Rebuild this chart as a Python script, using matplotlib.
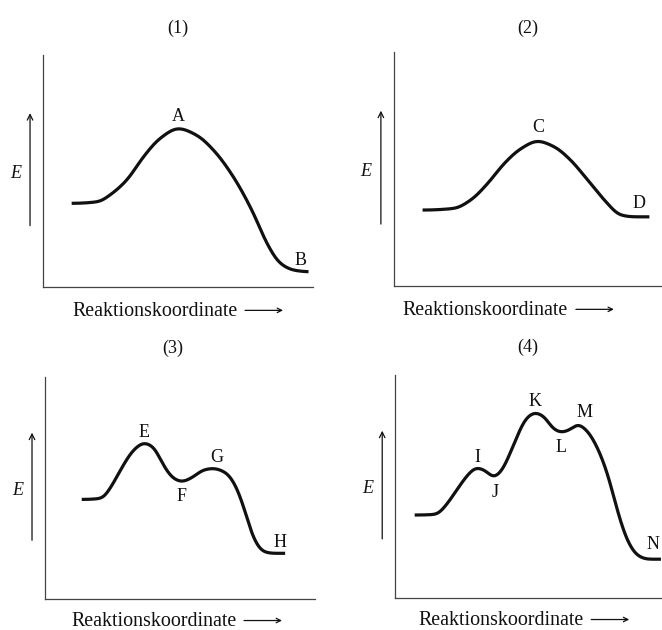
import numpy as np
import matplotlib.pyplot as plt

plt.rcParams['font.family'] = ['Liberation Serif', 'DejaVu Sans']

# energy profiles, reaction coordinate and energy both on a 0-100 scale
x1 = [10.6, 20.5, 24.8, 31.0, 37.2, 43.3, 50.1, 56.9, 63.1, 70.5, 77.9, 82.9, 87.8, 92.7, 98.3]
e1 = [36.1, 36.8, 39.7, 46.1, 56.2, 64.1, 68.4, 65.5, 59.1, 47.5, 31.8, 18.8, 10.2, 7.3, 6.6]

x2 = [10.7, 22.5, 28.7, 35.0, 41.2, 47.4, 53.6, 59.8, 66.0, 72.3, 78.5, 84.7, 89.7, 95.3]
e2 = [32.5, 33.2, 36.8, 43.9, 52.5, 58.8, 62.0, 59.6, 53.8, 45.3, 36.8, 30.3, 29.6, 29.6]

x3 = [13.6, 21.1, 24.1, 29.0, 32.7, 36.7, 40.1, 43.8, 47.5, 50.6, 54.9, 58.6, 62.3,
      67.3, 71.0, 74.1, 77.2, 80.9, 84.6, 88.9]
e3 = [44.9, 45.4, 49.9, 60.4, 67.1, 70.4, 68.6, 60.4, 54.4, 52.9, 55.1, 58.2, 58.9,
      56.7, 50.0, 39.4, 27.4, 21.3, 20.6, 20.6]

x4 = [7.3, 15.4, 19.1, 23.5, 27.2, 30.3, 33.5, 36.8, 39.7, 42.8, 45.9, 49.1, 52.4,
      55.9, 59.0, 62.2, 65.3, 68.4, 72.2, 75.9, 79.7, 83.4, 87.2, 90.9, 94.7, 99.6]
e4 = [37.2, 37.5, 41.7, 49.2, 55.2, 58.4, 57.4, 54.1, 56.7, 64.1, 73.1, 80.6, 83.1,
      81.3, 76.1, 74.3, 75.3, 77.9, 74.6, 67.1, 55.2, 38.7, 25.3, 19.0, 17.4, 17.4]

titles = ['(1)', '(2)', '(3)', '(4)']
point_labels = [['A', 'B'], ['C', 'D'], ['E', 'F', 'G', 'H'], ['I', 'J', 'K', 'L', 'M', 'N']]
xlabel = 'Reaktionskoordinate'
ylabel = 'E'


def smooth(x, y, n=800, sigma=1.3):
    # pchip line through the read points, lightly softened like a hand-drawn curve
    x = np.asarray(x, float)
    y = np.asarray(y, float)
    h = np.diff(x)
    d = np.diff(y) / h
    m = np.zeros_like(y)
    for k in range(1, len(x) - 1):
        if d[k - 1] * d[k] > 0:
            w1 = 2 * h[k] + h[k - 1]
            w2 = h[k] + 2 * h[k - 1]
            m[k] = (w1 + w2) / (w1 / d[k - 1] + w2 / d[k])
    xs = np.linspace(x[0], x[-1], n)
    i = np.clip(np.searchsorted(x, xs) - 1, 0, len(x) - 2)
    t = (xs - x[i]) / h[i]
    h00 = 2 * t**3 - 3 * t**2 + 1
    h10 = t**3 - 2 * t**2 + t
    h01 = -2 * t**3 + 3 * t**2
    h11 = t**3 - t**2
    ys = h00 * y[i] + h10 * h[i] * m[i] + h01 * y[i + 1] + h11 * h[i] * m[i + 1]
    step = xs[1] - xs[0]
    r = int(4 * sigma / step)
    g = np.exp(-0.5 * (np.arange(-r, r + 1) * step / sigma) ** 2)
    g /= g.sum()
    ys = np.convolve(np.pad(ys, r, mode='edge'), g, mode='valid')
    return xs, ys


fig = plt.figure(figsize=(6.62, 6.30), dpi=100)

rects = [[0.065, 0.5444, 0.408, 0.368],
         [0.595, 0.546, 0.405, 0.371],
         [0.068, 0.0492, 0.408, 0.352],
         [0.597, 0.0508, 0.403, 0.354]]
title_xy = [(178, 28), (528, 28), (173, 348), (528, 347)]  # px
label_pos = [[(50, 73.7), (95.2, 11.6)],
             [(53.7, 67.9), (91.4, 35.5)],
             [(36.7, 75.2), (50.7, 46.4), (63.7, 64.0), (87.0, 25.7)],
             [(30.7, 63.2), (37.5, 47.5), (52.4, 88.3), (62.2, 67.3), (70.8, 83.0), (96.6, 23.8)]]
xlabel_start = [29, 9, 26, 23]  # px from the left spine
xlabel_drop = [17.3, 17.3, 16.0, 16.0]  # pt below the bottom spine

curves = [(x1, e1), (x2, e2), (x3, e3), (x4, e4)]
ink = '#111111'

for k in range(4):
    ax = fig.add_axes(rects[k])
    ax.set_xlim(0, 100)
    ax.set_ylim(0, 100)
    for s in ['top', 'right']:
        ax.spines[s].set_visible(False)
    for s in ['left', 'bottom']:
        ax.spines[s].set_color('#444444')
        ax.spines[s].set_linewidth(0.9)
    ax.set_xticks([])
    ax.set_yticks([])
    ax.patch.set_alpha(0)
    wpx = rects[k][2] * 662

    xs, ys = smooth(*curves[k])
    ax.plot(xs, ys, color=ink, lw=2.3, solid_capstyle='butt', clip_on=False)

    for lab, (lx, ly) in zip(point_labels[k], label_pos[k]):
        ax.text(lx, ly, lab, fontsize=13, ha='center', va='center', color=ink)

    tx, ty = title_xy[k]
    fig.text(tx / 662, 1 - ty / 630, titles[k], ha='center', va='center',
             fontsize=13, color=ink)

    # energy arrow and label on the left
    xa = -13 / wpx
    ax.annotate('', xy=(xa, 0.75), xycoords='axes fraction',
                xytext=(xa, 0.265), textcoords='axes fraction',
                arrowprops=dict(arrowstyle='->', lw=0.9, color=ink,
                                mutation_scale=10, shrinkA=0, shrinkB=0))
    ax.annotate(ylabel, xy=(0, 0.49), xycoords='axes fraction',
                xytext=(-20, 0), textcoords='offset points',
                ha='center', va='center', fontsize=13, style='italic', color=ink)

    # axis label with its long arrow
    x0 = xlabel_start[k] * 0.72
    dy = xlabel_drop[k]
    ax.annotate(xlabel, xy=(0, 0), xycoords='axes fraction',
                xytext=(x0, -dy), textcoords='offset points',
                ha='left', va='center', fontsize=14.4, color=ink)
    ax.annotate('', xy=(x0 + 211 * 0.72, -dy + 0.5), xycoords='axes points',
                xytext=(x0 + 173 * 0.72, -dy + 0.5), textcoords='axes points',
                arrowprops=dict(arrowstyle='->', lw=0.9, color=ink,
                                mutation_scale=8, shrinkA=0, shrinkB=0),
                annotation_clip=False)

fig.savefig('out.png', dpi=100)
